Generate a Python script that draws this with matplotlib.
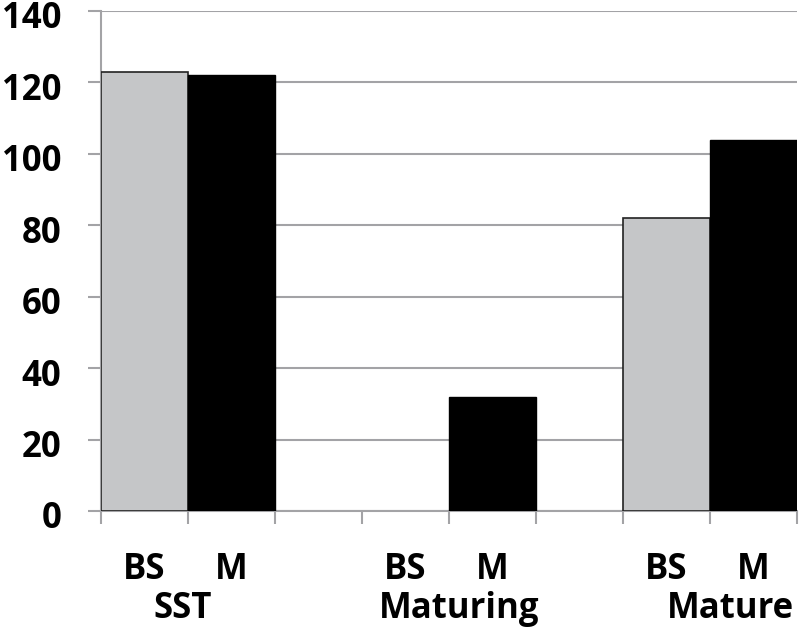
import matplotlib
matplotlib.use("Agg")
import matplotlib.pyplot as plt
import matplotlib.transforms as mtransforms

# Data
groups = ["SST", "Maturing", "Mature"]
sub_labels = ["BS", "M"]
bs_values = [123, 0, 82]
m_values = [122, 32, 104]
y_ticks = [0, 20, 40, 60, 80, 100, 120, 140]

FONT = "Open Sans"
fig = plt.figure(figsize=(7.99, 6.27), dpi=100)
W, H = 799, 627
ax = fig.add_axes([101 / W, 1 - 511 / H, 696 / W, 500 / H])

grid_c = "#a3a3a6"
gray_bar = "#c5c6c8"

# slot positions: each group uses 2 slots, then a gap slot
bs_pos = [g * 3 for g in range(len(groups))]
m_pos = [g * 3 + 1 for g in range(len(groups))]

ax.set_axisbelow(True)
ax.yaxis.grid(True, color=grid_c, linewidth=1.5)
ax.bar(bs_pos, bs_values, width=1.0, color=gray_bar, edgecolor="#222222",
       linewidth=[1.2 if v > 0 else 0 for v in bs_values], zorder=3)
ax.bar(m_pos, m_values, width=1.0, color="black", edgecolor="black",
       linewidth=[1.0 if v > 0 else 0 for v in m_values], zorder=3)

ax.set_xlim(-0.5, 7.5)
ax.set_ylim(0, 140)
ax.set_yticks(y_ticks)
ax.set_yticklabels([str(v) for v in y_ticks], fontsize=25, fontweight="bold", family=FONT)
ax.set_xticks([i - 0.5 for i in range(9)])
ax.set_xticklabels([])
ax.tick_params(axis="y", length=9.5, width=1.5, color=grid_c, pad=19)
ax.tick_params(axis="x", length=9, width=1.5, color=grid_c, direction="out")

offset = mtransforms.ScaledTranslation(0, -4 / 100, fig.dpi_scale_trans)
for lab in ax.get_yticklabels():
    lab.set_transform(lab.get_transform() + offset)

for s in ["top", "right"]:
    ax.spines[s].set_visible(False)
for s in ["left", "bottom"]:
    ax.spines[s].set_color(grid_c)
    ax.spines[s].set_linewidth(1.5)

trans = mtransforms.blended_transform_factory(ax.transData, ax.transAxes)
for p in bs_pos:
    ax.text(p, -0.136, sub_labels[0], transform=trans, ha="center", va="baseline",
            fontsize=25, fontweight="bold", family=FONT)
for p in m_pos:
    ax.text(p, -0.136, sub_labels[1], transform=trans, ha="center", va="baseline",
            fontsize=25, fontweight="bold", family=FONT)
group_x = [0.44, 3.62, 6.73]
for gx, g in zip(group_x, groups):
    ax.text(gx, -0.214, g, transform=trans, ha="center", va="baseline",
            fontsize=25, fontweight="bold", family=FONT)

fig.savefig("out.png", dpi=100)
